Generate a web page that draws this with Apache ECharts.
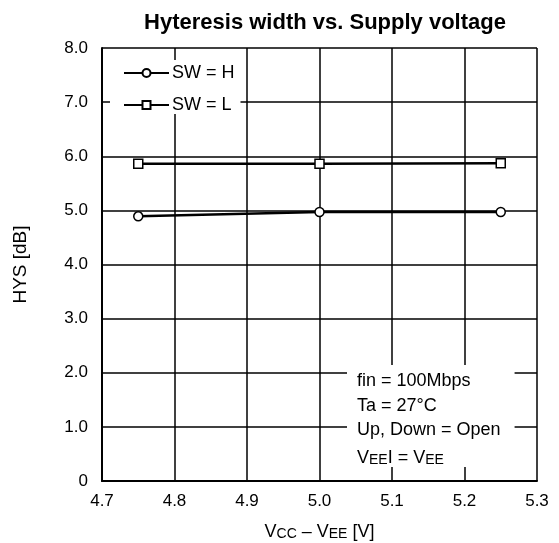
<!DOCTYPE html>
<html>
<head>
<meta charset="utf-8">
<script src="https://cdn.jsdelivr.net/npm/echarts@6/dist/echarts.min.js"></script>
<style>
html, body { margin: 0; padding: 0; background: #fff; }
#chart { width: 559px; height: 543px; }
</style>
</head>
<body>
<div id="chart"></div>
<script>
// supply voltage points (V)
var vcc = [4.75, 5.0, 5.25]
// hysteresis width in dB
var hysH = [4.89, 4.97, 4.97]
var hysL = [5.86, 5.86, 5.87]
var seriesNames = ['SW = H', 'SW = L']
var noteLines = ['fin = 100Mbps', 'Ta = 27°C', 'Up, Down = Open']

function pairs(xs, ys) {
    return xs.map(function(x, i) { return [x, ys[i]] })
}

var myChart = echarts.init(document.getElementById('chart'))
var font = 'Liberation Sans, Arial, sans-serif'
var option = {
    animation: false,
    backgroundColor: '#fff',
    textStyle: { fontFamily: font },
    title: {
        text: 'Hyteresis width vs. Supply voltage',
        left: 320,
        textAlign: 'center',
        top: 7,
        textStyle: { fontSize: 22, fontWeight: 'bold', color: '#000', fontFamily: font }
    },
    grid: { left: 102, right: 22, top: 48, bottom: 62, outerBoundsMode: 'none' },
    legend: {
        data: seriesNames,
        orient: 'vertical',
        left: 110,
        top: 60,
        itemWidth: 45,
        itemHeight: 10,
        itemGap: 14,
        backgroundColor: '#fff',
        padding: [4, 6, 0, 13],
        textStyle: { fontSize: 18, color: '#000', fontFamily: font, padding: [0, 0, 0, -2] }
    },
    xAxis: {
        type: 'value',
        min: 4.7, max: 5.3, interval: 0.1,
        name: '{b|V}{s|CC}{b| – V}{s|EE}{b| [V]}',
        nameLocation: 'middle',
        nameGap: 40,
        nameTextStyle: {
            rich: {
                b: { fontSize: 18, color: '#000', fontFamily: font, verticalAlign: 'bottom', lineHeight: 20 },
                s: { fontSize: 14, color: '#000', fontFamily: font, verticalAlign: 'bottom', lineHeight: 20 }
            }
        },
        axisLine: { lineStyle: { color: '#000', width: 2 } },
        axisTick: { show: false },
        axisLabel: { fontSize: 17, color: '#000', margin: 12, formatter: function(v) { return v.toFixed(1) } },
        splitLine: { show: true, lineStyle: { color: '#000', width: 1.5 } }
    },
    yAxis: {
        type: 'value',
        min: 0, max: 8, interval: 1,
        name: 'HYS [dB]',
        nameLocation: 'middle',
        nameGap: 72,
        nameTextStyle: { fontSize: 19, color: '#000' },
        axisLine: { show: true, lineStyle: { color: '#000', width: 2 } },
        axisTick: { show: false },
        axisLabel: { fontSize: 17, color: '#000', margin: 14, formatter: function(v) { return v === 0 ? '0' : v.toFixed(1) } },
        splitLine: { show: true, lineStyle: { color: '#000', width: 1.5 } }
    },
    graphic: [{
        type: 'text',
        left: 347,
        top: 365,
        z: 100,
        style: {
            text: noteLines.join('\n') + '\n{b|V}{s|EE}{b|I = V}{s|EE}',
            fontSize: 18,
            lineHeight: 24.5,
            fill: '#000',
            fontFamily: font,
            backgroundColor: '#fff',
            padding: [4, 14, 0, 10],
            rich: {
                b: { fontSize: 18, fill: '#000', fontFamily: font, lineHeight: 24.5, verticalAlign: 'bottom' },
                s: { fontSize: 14, fill: '#000', fontFamily: font, lineHeight: 24.5, verticalAlign: 'bottom' }
            }
        }
    }],
    series: [
        {
            name: seriesNames[0],
            type: 'line',
            data: pairs(vcc, hysH),
            symbol: 'circle',
            symbolSize: 9,
            lineStyle: { color: '#000', width: 2.5 },
            itemStyle: { color: '#fff', borderColor: '#000', borderWidth: 1.5 }
        },
        {
            name: seriesNames[1],
            type: 'line',
            data: pairs(vcc, hysL),
            symbol: 'rect',
            symbolSize: 9,
            lineStyle: { color: '#000', width: 2.5 },
            itemStyle: { color: '#fff', borderColor: '#000', borderWidth: 1.5 }
        }
    ]
}
myChart.setOption(option)
</script>
</body>
</html>
